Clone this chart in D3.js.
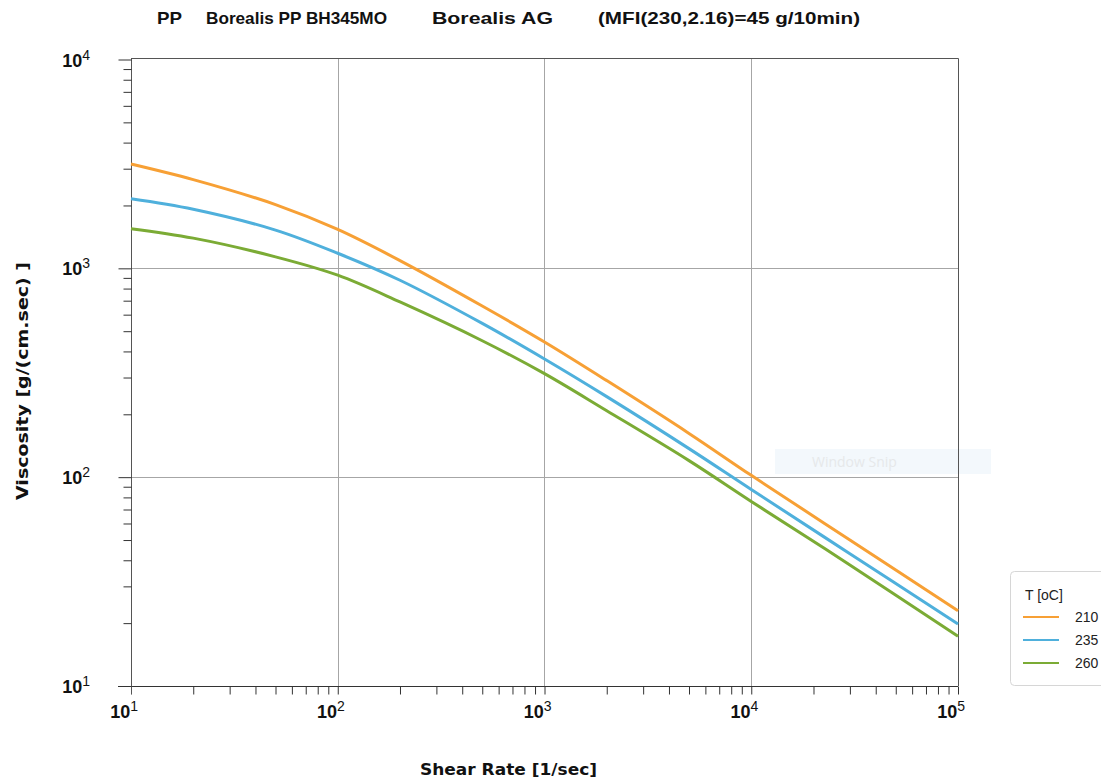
<!DOCTYPE html>
<html>
<head>
<meta charset="utf-8">
<script src="https://cdn.jsdelivr.net/npm/d3@7"></script>
<style>
  html, body { margin: 0; padding: 0; background: #fff; }
  svg { display: block; }
  text { font-family: "Liberation Sans", Arial, sans-serif; }
</style>
</head>
<body>
<svg id="chart" width="1101" height="780"></svg>
<script>
// Shear rate [1/sec] at which viscosity is sampled
const shearRate = [10, 20, 50, 100, 200, 500, 1000, 2000, 5000, 10000, 30000, 100000];
// Viscosity [g/(cm.sec)] for each melt temperature
const visc210 = [3160, 2660, 2020, 1535, 1089, 660, 444, 290, 162, 102, 50, 22.9];
const visc235 = [2155, 1919, 1525, 1181, 877, 545, 368, 243, 137, 87.3, 43, 19.8];
const visc260 = [1549, 1395, 1135, 927, 690, 450, 313, 208, 120, 76.5, 38, 17.3];
const temps = ["210", "235", "260"];
const colors = ["#f7a035", "#4fb0dc", "#7bab35"];
const xDecades = [10, 100, 1000, 10000, 100000];
const yDecades = [10, 100, 1000, 10000];
const titleParts = ["PP", "Borealis PP BH345MO", "Borealis AG", "(MFI(230,2.16)=45 g/10min)"];

const series = [visc210, visc235, visc260];

const svg = d3.select("#chart");
const plotL = 131, plotR = 958, plotT = 59.5, plotB = 686;

const x = d3.scaleLog().domain([10, 1e5]).range([plotL, plotR]);
const y = d3.scaleLog().domain([10, 1e4]).range([plotB, plotT]);

// Title segments
const titleX = [157, 206, 432, 598];
const titleW = [25, 181, 121, 262];
svg.selectAll("text.title").data(titleParts).join("text")
  .attr("class", "title")
  .attr("x", (d, i) => titleX[i]).attr("y", 24)
  .attr("textLength", (d, i) => titleW[i])
  .attr("lengthAdjust", "spacingAndGlyphs")
  .style("font-size", "17px").style("font-weight", "bold").attr("fill", "#111")
  .text(d => d);

// Faint snipping-tool overlay
svg.append("rect").attr("x", 775).attr("y", 449).attr("width", 216).attr("height", 25)
  .attr("fill", "#f3f8fc");
svg.append("text").attr("x", 812).attr("y", 467)
  .style("font-family", "'Open Sans', sans-serif").style("font-size", "14px")
  .attr("fill", "#e6e8ea").text("Window Snip");

// Grid lines at each decade
const grid = svg.append("g").attr("stroke", "#a6a6a6").attr("stroke-width", 1);
grid.selectAll("line.gx").data(xDecades.slice(1, -1)).join("line")
  .attr("x1", d => Math.round(x(d)) + 0.5).attr("x2", d => Math.round(x(d)) + 0.5)
  .attr("y1", 58).attr("y2", plotB);
grid.selectAll("line.gy").data(yDecades.slice(1, -1)).join("line")
  .attr("y1", d => Math.round(y(d)) + 0.5).attr("y2", d => Math.round(y(d)) + 0.5)
  .attr("x1", plotL).attr("x2", plotR);

// Plot frame (top and right)
svg.append("path").attr("d", `M${plotL},58.5H${plotR + 0.5}V${plotB}`)
  .attr("fill", "none").attr("stroke", "#555").attr("stroke-width", 1);

// Axes
const xAxis = d3.axisBottom(x).tickValues(
  d3.range(1, 5).flatMap(e => d3.range(1, 10).map(m => m * Math.pow(10, e))).concat([1e5])
).tickSize(8).tickFormat("");
const gx = svg.append("g").attr("transform", `translate(0,${plotB + 0.5})`).call(xAxis);
gx.select(".domain").attr("d", `M${plotL - 13},0H${plotR}`).attr("stroke", "#333");
gx.selectAll(".tick line").attr("stroke", "#333");

const yAxis = d3.axisLeft(y).tickValues(
  d3.range(1, 4).flatMap(e => d3.range(1, 10).map(m => m * Math.pow(10, e))).concat([1e4])
).tickSize(8).tickFormat("");
const gy = svg.append("g").attr("transform", `translate(${plotL + 0.5},0)`).call(yAxis);
gy.select(".domain").attr("d", `M0,58V${plotB + 8}`).attr("stroke", "#555");
gy.selectAll(".tick line")
  .attr("stroke", "#333")
  .attr("x2", d => yDecades.includes(d) ? -13 : -8);

// Decade labels as 10 with superscript exponent
function powLabel(g, v, px, py, anchor) {
  const t = g.append("text").attr("x", px).attr("y", py).attr("text-anchor", anchor)
    .style("font-size", "18px").style("font-weight", "bold").attr("fill", "#111");
  t.append("tspan").text("10");
  t.append("tspan").attr("dy", -7).style("font-size", "14px").style("font-weight", "normal")
    .text(String(Math.round(Math.log10(v))));
}
const labels = svg.append("g");
yDecades.forEach(v => powLabel(labels, v, 90, y(v) + 7, "end"));
xDecades.forEach(v => powLabel(labels, v, x(v) + 7, plotB + 32, "end"));

// Axis titles
svg.append("text").attr("x", 420).attr("y", 775)
  .attr("textLength", 177).attr("lengthAdjust", "spacingAndGlyphs")
  .style("font-family", "'DejaVu Sans', sans-serif")
  .style("font-size", "16px").style("font-weight", "bold").attr("fill", "#111")
  .text("Shear Rate [1/sec]");
svg.append("text").attr("transform", "translate(28,500) rotate(-90)")
  .attr("textLength", 238).attr("lengthAdjust", "spacingAndGlyphs")
  .style("font-family", "'DejaVu Sans', sans-serif")
  .style("font-size", "16px").style("font-weight", "bold").attr("fill", "#111")
  .text("Viscosity [g/(cm.sec) ]");

// Viscosity curves
const line = d3.line()
  .x(d => x(d[0])).y(d => y(d[1]))
  .curve(d3.curveCatmullRom.alpha(0.5));
svg.append("g").selectAll("path.curve").data(series).join("path")
  .attr("class", "curve")
  .attr("d", s => line(shearRate.map((r, i) => [r, s[i]])))
  .attr("fill", "none")
  .attr("stroke", (d, i) => colors[i])
  .attr("stroke-width", 3);

// Legend
const lg = svg.append("g");
lg.append("rect").attr("x", 1010.5).attr("y", 571.5).attr("width", 110).attr("height", 114)
  .attr("rx", 4).attr("fill", "#fff").attr("stroke", "#d6d6d6");
lg.append("text").attr("x", 1025).attr("y", 600).style("font-size", "14px").attr("fill", "#222")
  .text("T [oC]");
temps.forEach((t, i) => {
  const ly = 617 + i * 23;
  lg.append("line").attr("x1", 1023).attr("x2", 1059).attr("y1", ly).attr("y2", ly)
    .attr("stroke", colors[i]).attr("stroke-width", 2);
  lg.append("text").attr("x", 1075).attr("y", ly + 5).style("font-size", "14px").attr("fill", "#222")
    .text(t);
});
</script>
</body>
</html>
